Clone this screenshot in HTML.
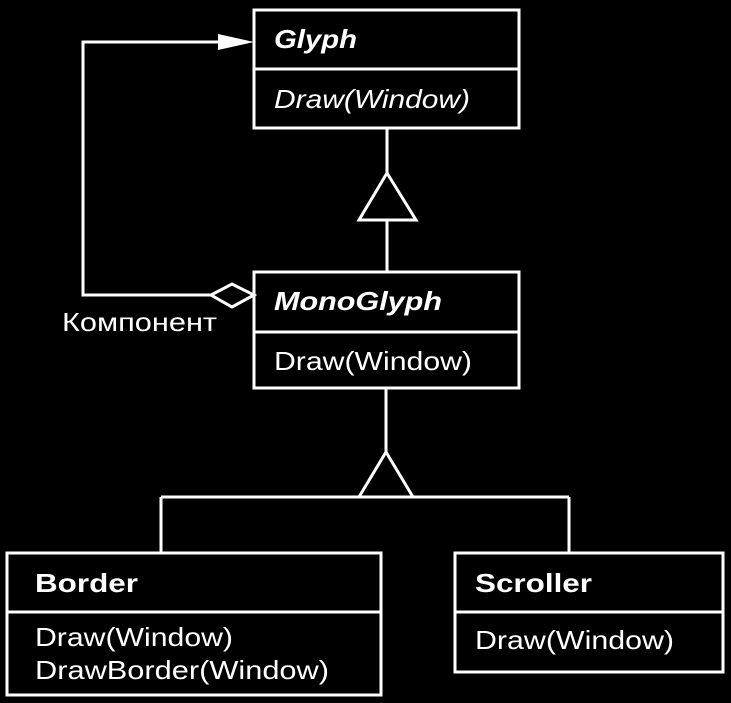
<!DOCTYPE html>
<html><head><meta charset="utf-8"><style>
html,body{margin:0;padding:0;background:#000;}
svg{display:block;}
text{font-family:"Liberation Sans",sans-serif;fill:#fff;font-size:26px;}
</style></head><body>
<svg width="731" height="703" viewBox="0 0 731 703">
<g stroke="#fff" stroke-width="3" fill="none">
<rect x="254" y="10" width="265" height="118"/>
<line x1="254" y1="69" x2="519" y2="69"/>
<rect x="254" y="272" width="265" height="116"/>
<line x1="254" y1="332" x2="519" y2="332"/>
<rect x="7" y="553" width="374" height="142"/>
<line x1="7" y1="612" x2="381" y2="612"/>
<rect x="455" y="553" width="268" height="119"/>
<line x1="455" y1="612" x2="723" y2="612"/>
<line x1="387" y1="128" x2="387" y2="173"/>
<polygon points="387,173 359,220 416,220"/>
<line x1="387" y1="220" x2="387" y2="272"/>
<line x1="386" y1="388" x2="386" y2="452"/>
<polygon points="386,452 359,497 413,497"/>
<line x1="161" y1="497" x2="569" y2="497"/>
<line x1="161" y1="497" x2="161" y2="553"/>
<line x1="569" y1="497" x2="569" y2="553"/>
<polyline points="218,42 83,42 83,295 211,295"/>
<polygon points="211,295 232,284 254,295 232,307"/>
</g>
<polygon points="218,34 254,42 218,50" fill="#fff"/>
<text x="274" y="48" font-weight="bold" font-style="italic" textLength="83" lengthAdjust="spacingAndGlyphs">Glyph</text>
<text x="274" y="108" font-style="italic" textLength="196" lengthAdjust="spacingAndGlyphs">Draw(Window)</text>
<text x="274" y="310" font-weight="bold" font-style="italic" textLength="168" lengthAdjust="spacingAndGlyphs">MonoGlyph</text>
<text x="274" y="370" textLength="198" lengthAdjust="spacingAndGlyphs">Draw(Window)</text>
<text x="62" y="331" font-size="24" textLength="155" lengthAdjust="spacingAndGlyphs">Компонент</text>
<text x="35" y="592" font-weight="bold" textLength="103" lengthAdjust="spacingAndGlyphs">Border</text>
<text x="35" y="646" textLength="198" lengthAdjust="spacingAndGlyphs">Draw(Window)</text>
<text x="35" y="679" textLength="294" lengthAdjust="spacingAndGlyphs">DrawBorder(Window)</text>
<text x="475" y="592" font-weight="bold" textLength="117" lengthAdjust="spacingAndGlyphs">Scroller</text>
<text x="475" y="649" textLength="199" lengthAdjust="spacingAndGlyphs">Draw(Window)</text>
</svg>
</body></html>
